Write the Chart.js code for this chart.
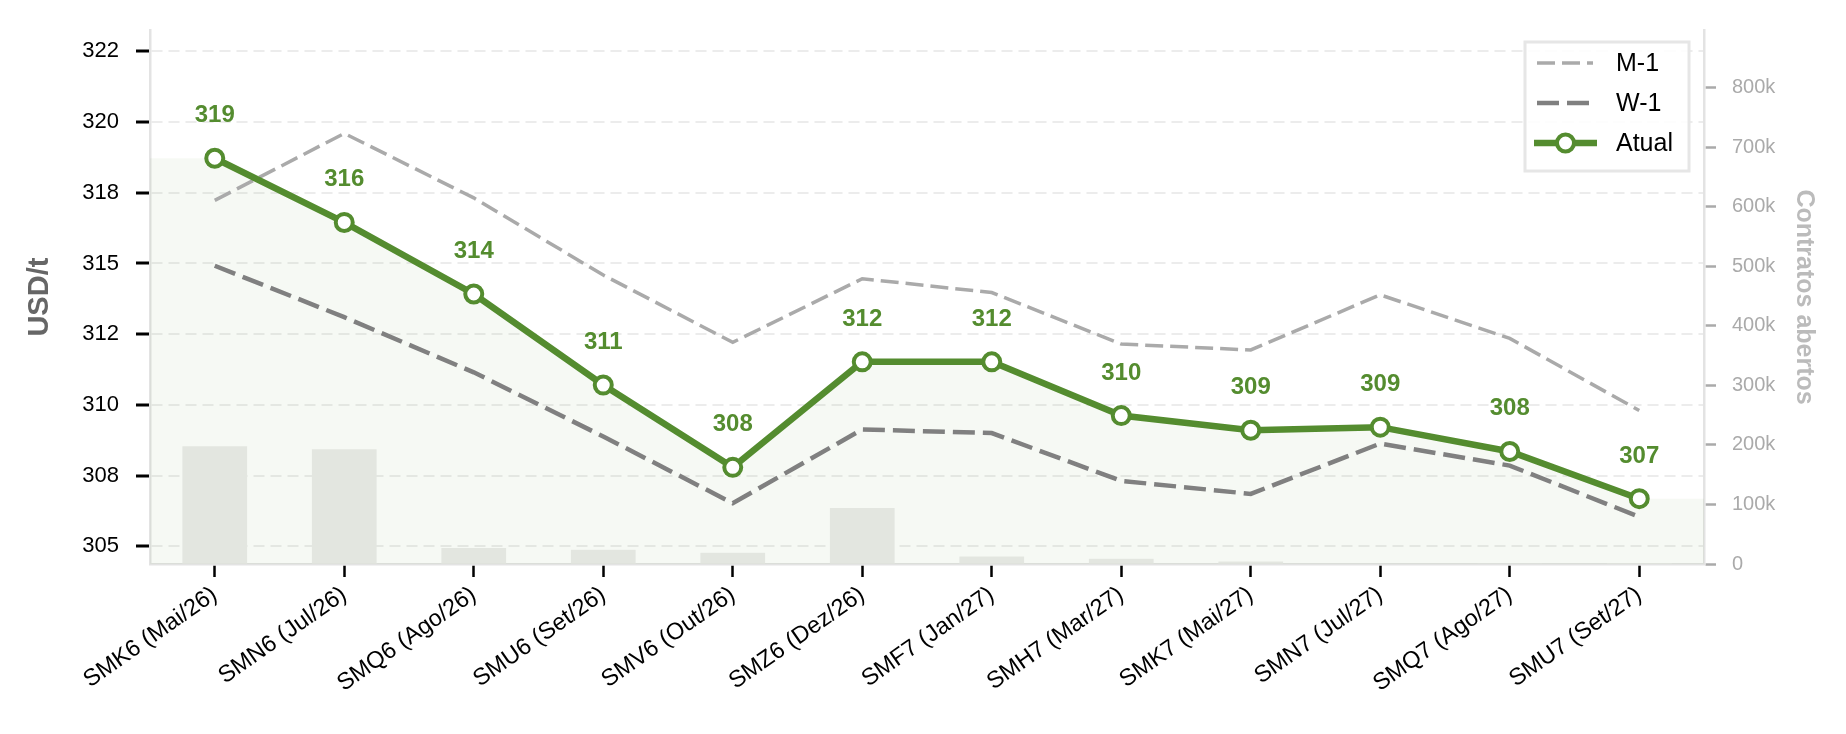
<!DOCTYPE html>
<html>
<head>
<meta charset="utf-8">
<script src="https://cdn.jsdelivr.net/npm/chart.js@4.4.1/dist/chart.umd.min.js"></script>
<style>
  html, body { margin: 0; padding: 0; background: #fff; }
  canvas { display: block; }
</style>
</head>
<body>
<canvas id="curvaChart" width="1846" height="734"></canvas>
<script>
// contratos do farelo (eixo x)
const contratos = ['SMK6 (Mai/26)', 'SMN6 (Jul/26)', 'SMQ6 (Ago/26)', 'SMU6 (Set/26)', 'SMV6 (Out/26)', 'SMZ6 (Dez/26)',
    'SMF7 (Jan/27)', 'SMH7 (Mar/27)', 'SMK7 (Mai/27)', 'SMN7 (Jul/27)', 'SMQ7 (Ago/27)', 'SMU7 (Set/27)'];

// USD/t
const atual = [318.72, 316.45, 313.92, 310.70, 307.79, 311.52, 311.52, 309.62, 309.10, 309.21, 308.35, 306.68];
const semanaAnterior = [314.92, 313.10, 311.15, 308.88, 306.52, 309.13, 309.00, 307.31, 306.85, 308.63, 307.85, 306.04];
const mesAnterior = [317.23, 319.60, 317.32, 314.59, 312.21, 314.46, 313.97, 312.15, 311.94, 313.89, 312.35, 309.80];

// contratos abertos
const contratosAbertos = [198000, 193000, 27000, 24000, 19000, 94000, 12500, 9000, 4000, 800, 400, 200];

// ticks
const yTicks = [305, 307.5, 310, 312.5, 315, 317.5, 320, 322.5];
const yTickLabels = ['305', '308', '310', '312', '315', '318', '320', '322'];
const y1Ticks = [0, 100000, 200000, 300000, 400000, 500000, 600000, 700000, 800000];
const y1TickLabels = ['0', '100k', '200k', '300k', '400k', '500k', '600k', '700k', '800k'];

const FONT = "'Liberation Sans', Arial, Helvetica, sans-serif";
const VERDE = '#548c2f';

const toXY = arr => arr.map((v, i) => ({ x: i, y: v }));

// área sombreada sob a curva atual, estendida até as bordas
const areaAtual = [{ x: -0.5, y: atual[0] }].concat(toXY(atual), [{ x: contratos.length - 0.5, y: atual[atual.length - 1] }]);

const rotulosAtual = {
    id: 'rotulosAtual',
    afterDatasetsDraw(chart) {
        const ctx = chart.ctx;
        const meta = chart.getDatasetMeta(4);
        ctx.save();
        ctx.fillStyle = VERDE;
        ctx.font = 'bold 24px ' + FONT;
        ctx.textAlign = 'center';
        ctx.textBaseline = 'alphabetic';
        meta.data.forEach((pt, i) => {
            ctx.fillText(Math.round(atual[i]).toString(), pt.x, pt.y - 36);
        });
        ctx.restore();
    }
};

const legenda = {
    id: 'legenda',
    afterDraw(chart) {
        const ctx = chart.ctx;
        const x0 = 1525, y0 = 42, w = 164, h = 129;
        ctx.save();
        ctx.fillStyle = 'rgba(255,255,255,0.9)';
        ctx.fillRect(x0, y0, w, h);
        ctx.strokeStyle = '#e6e6e6';
        ctx.lineWidth = 3;
        ctx.strokeRect(x0, y0, w, h);

        const itens = [
            { txt: 'M-1', cor: '#aaaaaa', lw: 3.5, dash: [18, 7], y: 63 },
            { txt: 'W-1', cor: '#808080', lw: 4.5, dash: [22, 8], y: 103 },
            { txt: 'Atual', cor: VERDE, lw: 6.5, dash: [], y: 143, marker: true }
        ];
        itens.forEach(it => {
            ctx.strokeStyle = it.cor;
            ctx.lineWidth = it.lw;
            ctx.setLineDash(it.dash);
            ctx.beginPath();
            if (it.marker) {
                ctx.moveTo(1534, it.y);
                ctx.lineTo(1597, it.y);
            } else {
                ctx.moveTo(1537, it.y);
                ctx.lineTo(1593, it.y);
            }
            ctx.stroke();
            ctx.setLineDash([]);
            if (it.marker) {
                ctx.beginPath();
                ctx.arc(1565.5, it.y, 8.5, 0, Math.PI * 2);
                ctx.fillStyle = '#fff';
                ctx.fill();
                ctx.lineWidth = 4;
                ctx.stroke();
            }
            ctx.fillStyle = '#000';
            ctx.font = '25px ' + FONT;
            ctx.textAlign = 'left';
            ctx.textBaseline = 'middle';
            ctx.fillText(it.txt, 1616, it.y + 1);
        });
        ctx.restore();
    }
};

new Chart(document.getElementById('curvaChart'), {
    data: {
        datasets: [{
            type: 'bar',
            label: 'Contratos abertos',
            data: toXY(contratosAbertos),
            yAxisID: 'y1',
            backgroundColor: '#ebebea',
            barPercentage: 0.5,
            categoryPercentage: 1,
            order: 10
        }, {
            type: 'line',
            label: 'area',
            data: areaAtual,
            yAxisID: 'y',
            borderWidth: 0,
            pointRadius: 0,
            fill: 'start',
            backgroundColor: 'rgba(84,140,47,0.05)',
            order: 9
        }, {
            type: 'line',
            label: 'M-1',
            data: toXY(mesAnterior),
            yAxisID: 'y',
            borderColor: '#aaaaaa',
            borderWidth: 3.5,
            borderDash: [18, 7],
            pointRadius: 0,
            fill: false,
            order: 3
        }, {
            type: 'line',
            label: 'W-1',
            data: toXY(semanaAnterior),
            yAxisID: 'y',
            borderColor: '#808080',
            borderWidth: 4.5,
            borderDash: [22, 8],
            pointRadius: 0,
            fill: false,
            order: 2
        }, {
            type: 'line',
            label: 'Atual',
            data: toXY(atual),
            yAxisID: 'y',
            borderColor: VERDE,
            borderWidth: 6.5,
            pointRadius: 8.5,
            pointBorderWidth: 4,
            pointBackgroundColor: '#ffffff',
            pointBorderColor: VERDE,
            fill: false,
            order: 1
        }]
    },
    options: {
        responsive: false,
        animation: false,
        devicePixelRatio: 1,
        layout: { padding: { top: 27, left: 0, right: 0, bottom: 0 } },
        plugins: {
            legend: { display: false },
            tooltip: { enabled: false }
        },
        scales: {
            x: {
                type: 'linear',
                bounds: 'data',
                offset: false,
                min: -0.5,
                max: contratos.length - 0.5,
                afterBuildTicks: s => { s.ticks = contratos.map((_, i) => ({ value: i })); },
                afterFit: s => { s.height = 170; },
                grid: {
                    offset: false,
                    drawOnChartArea: false,
                    tickColor: '#000',
                    tickLength: 13,
                    tickWidth: 2.5
                },
                border: { color: '#e3e3e3', width: 2.5 },
                ticks: {
                    autoSkip: false,
                    maxRotation: 35,
                    minRotation: 35,
                    padding: 4,
                    color: '#000',
                    font: { family: FONT, size: 23.5 },
                    callback: v => contratos[v]
                }
            },
            y: {
                position: 'left',
                min: 304.37,
                max: 323.25,
                afterBuildTicks: s => { s.ticks = yTicks.map(v => ({ value: v })); },
                afterFit: s => { s.width = 150; },
                grid: {
                    color: '#ececec',
                    lineWidth: 2,
                    tickColor: '#000',
                    tickLength: 14,
                    tickWidth: 3
                },
                border: { color: '#e3e3e3', width: 2.5, dash: [11, 6] },
                ticks: {
                    padding: 17,
                    color: '#000',
                    font: { family: FONT, size: 22 },
                    callback: (v, i) => yTickLabels[i]
                },
                title: {
                    display: true,
                    text: 'USD/t',
                    color: '#666666',
                    font: { family: FONT, size: 29, weight: 'bold' },
                    padding: { top: 23, bottom: 0 }
                }
            },
            y1: {
                position: 'right',
                min: 0,
                max: 897000,
                afterBuildTicks: s => { s.ticks = y1Ticks.map(v => ({ value: v })); },
                afterFit: s => { s.width = 142; },
                grid: {
                    drawOnChartArea: false,
                    tickColor: '#aaaaaa',
                    tickLength: 12,
                    tickWidth: 2.5
                },
                border: { color: '#e3e3e3', width: 2.5 },
                ticks: {
                    padding: 16,
                    color: '#aaaaaa',
                    font: { family: FONT, size: 20 },
                    callback: (v, i) => y1TickLabels[i]
                },
                title: {
                    display: true,
                    text: 'Contratos abertos',
                    color: '#bbbbbb',
                    font: { family: FONT, size: 25, weight: 'bold' },
                    padding: { top: 27, bottom: 0 }
                }
            }
        }
    },
    plugins: [rotulosAtual, legenda]
});
</script>
</body>
</html>
